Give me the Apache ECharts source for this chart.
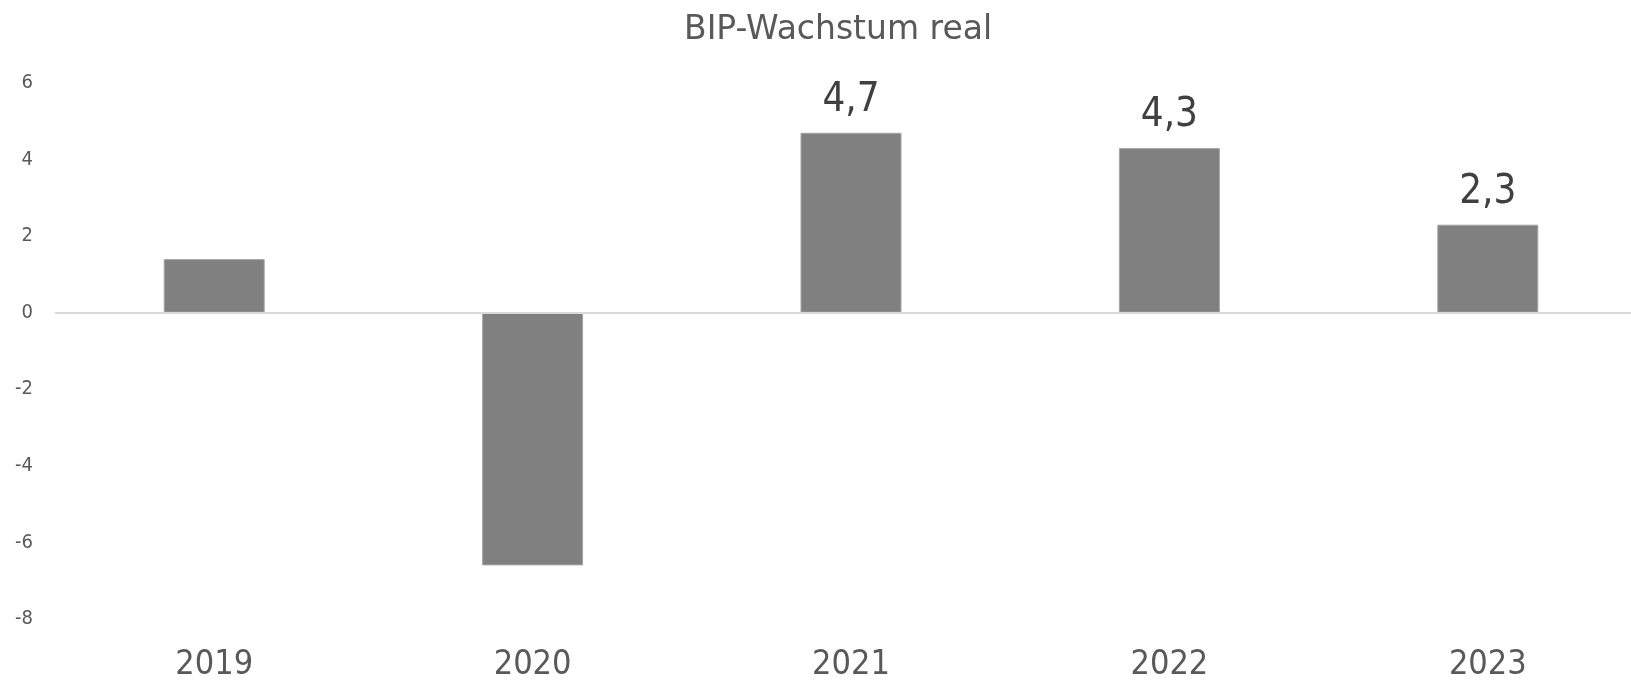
<!DOCTYPE html>
<html>
<head>
<meta charset="utf-8">
<script src="https://cdn.jsdelivr.net/npm/echarts@6/dist/echarts.min.js"></script>
<style>
  html, body { margin: 0; padding: 0; background: #fff; }
  #myCharts { width: 1631px; height: 682px; }
</style>
</head>
<body>
<div id="myCharts"></div>
<script>
// Daten
const years = ["2019", "2020", "2021", "2022", "2023"];
const growth = [1.4, -6.6, 4.7, 4.3, 2.3];
const labelShown = [false, false, true, true, true]; // nur die letzten drei beschriftet
const yTicks = [-8, 6, 2]; // min, max, interval

const myCharts = echarts.init(document.getElementById("myCharts"));
const font = "'DejaVu Sans Condensed', 'DejaVu Sans', sans-serif";

let options = {
  animation: false,
  title: {
    text: "BIP-Wachstum real",
    left: 679,
    top: 9,
    textStyle: {
      fontFamily: "'DejaVu Sans', sans-serif",
      fontSize: 33,
      fontWeight: "normal",
      color: "#595959"
    }
  },
  grid: {
    left: 55,
    right: -16, // Plotfläche ragt rechts etwas über den Rand hinaus
    top: 83,
    bottom: 63,
    outerBoundsMode: "none"
  },
  xAxis: {
    type: "category",
    data: years,
    axisLine: { show: false, onZero: false },
    axisTick: { show: false },
    axisLabel: {
      margin: 29,
      fontFamily: font,
      fontSize: 34,
      color: "#595959"
    }
  },
  yAxis: {
    type: "value",
    min: yTicks[0],
    max: yTicks[1],
    interval: yTicks[2],
    axisLine: { show: false },
    axisTick: { show: false },
    splitLine: { show: false },
    axisLabel: {
      margin: 22,
      fontFamily: font,
      fontSize: 20,
      color: "#595959"
    }
  },
  series: [
    {
      type: "bar",
      barWidth: 101,
      data: growth.map((v, i) => ({
        value: v,
        label: { show: labelShown[i] }
      })),
      itemStyle: {
        color: "#808080",
        borderColor: "#a6a6a6",
        borderWidth: 1
      },
      label: {
        position: "top",
        distance: 12,
        fontFamily: font,
        fontSize: 40,
        color: "#404040",
        formatter: p => String(p.value).replace(".", ",")
      },
      markLine: {
        silent: true,
        symbol: "none",
        label: { show: false },
        lineStyle: { color: "#d9d9d9", width: 2, type: "solid" },
        data: [{ yAxis: 0 }]
      }
    }
  ]
};
myCharts.setOption(options);
</script>
</body>
</html>
